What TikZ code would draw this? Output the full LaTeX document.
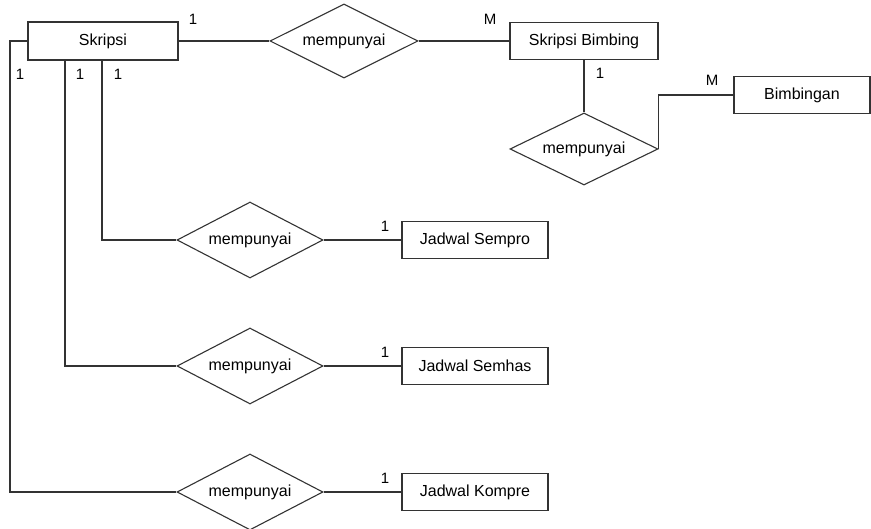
\documentclass[tikz,border=0pt]{standalone}
\usepackage{fontspec}
\setmainfont{Liberation Sans}
\usetikzlibrary{shapes.geometric,calc}

\begin{document}
\begin{tikzpicture}[x=1pt,y=-1pt,line width=1.1pt,draw=black!80,
    font=\fontsize{16}{18}\selectfont,
    entitas/.style={draw,rectangle,minimum width=148pt,minimum height=37pt,inner sep=0pt},
    relasi/.style={draw,diamond,aspect=2,minimum width=148pt,minimum height=74pt,inner sep=0pt},
    kardinal/.style={inner sep=0pt,font=\fontsize{15}{17}\selectfont}]
        \useasboundingbox (0,0) rectangle (871,529);
        % entitas
        \node[entitas,minimum width=150pt,minimum height=38pt] (skripsi) at (103,41) {Skripsi};
        \node[entitas] (sbimbing) at (584,41) {Skripsi Bimbing};
        \node[entitas,minimum width=136pt] (bimbingan) at (802,95) {Bimbingan};
        \node[entitas,minimum width=146pt] (sempro) at (475,240) {Jadwal Sempro};
        \node[entitas,minimum width=146pt] (semhas) at (475,366) {Jadwal Semhas};
        \node[entitas,minimum width=146pt] (kompre) at (475,492) {Jadwal Kompre};
        % relasi
        \node[relasi] (r1) at (344,41) {mempunyai};
        \node[relasi,minimum height=72pt] (r2) at (584,149) {mempunyai};
        \node[relasi,minimum width=146pt,minimum height=76pt] (r3) at (250,240) {mempunyai};
        \node[relasi,minimum width=146pt,minimum height=76pt] (r4) at (250,366) {mempunyai};
        \node[relasi,minimum width=146pt,minimum height=76pt] (r5) at (250,492) {mempunyai};
        % titik sudut
        \coordinate (k1) at (10,41);
        \coordinate (k2) at (65,60);
        \coordinate (k3) at (102,60);
        % garis
        \draw (skripsi) -- (r1);
        \draw (r1) -- (sbimbing);
        \draw (sbimbing) -- (r2);
        \draw (r2.east) |- (bimbingan.west);
        \draw (skripsi.west) -- (k1) |- (r5.west);
        \draw (k2) |- (r4.west);
        \draw (k3) |- (r3.west);
        \draw (r3) -- (sempro);
        \draw (r4) -- (semhas);
        \draw (r5) -- (kompre);
        % kardinalitas
        \node[kardinal] (c1) at (193,19) {1};
        \node[kardinal] (c2) at (490,19) {M};
        \node[kardinal] (c3) at (600,73) {1};
        \node[kardinal] (c4) at (712,80) {M};
        \node[kardinal] (c5) at (20,74) {1};
        \node[kardinal] (c6) at (80,74) {1};
        \node[kardinal] (c7) at (118,74) {1};
        \node[kardinal] (c8) at (385,226) {1};
        \node[kardinal] (c9) at (385,352) {1};
        \node[kardinal] (c10) at (385,478) {1};
    \end{tikzpicture}
\end{document}
